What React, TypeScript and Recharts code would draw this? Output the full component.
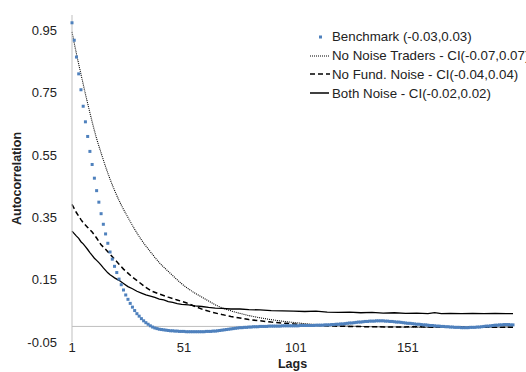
import { ComposedChart, Line, Scatter, XAxis, YAxis, ReferenceLine, Legend } from 'recharts';

// lag axis
const xTicks = [1, 51, 101, 151];
const yTicks = [-0.05, 0.15, 0.35, 0.55, 0.75, 0.95];

// Benchmark autocorrelation, one value per lag (1..198)
const benchmark = [
  0.975, 0.919, 0.865, 0.811, 0.760, 0.707, 0.657, 0.610, 0.562, 0.520,
  0.476, 0.436, 0.399, 0.362, 0.328, 0.297, 0.267, 0.239, 0.216, 0.193,
  0.173, 0.152, 0.134, 0.117, 0.101, 0.087, 0.074, 0.062, 0.051, 0.041,
  0.033, 0.025, 0.018, 0.012, 0.007, 0.002, -0.002, -0.005, -0.007, -0.009,
  -0.010, -0.011, -0.012, -0.013, -0.014, -0.014, -0.015, -0.015, -0.016, -0.016,
  -0.016, -0.017, -0.017, -0.017, -0.017, -0.017, -0.017, -0.017, -0.017, -0.017,
  -0.016, -0.016, -0.016, -0.015, -0.015, -0.014, -0.013, -0.012, -0.011, -0.010,
  -0.009, -0.008, -0.007, -0.006, -0.005, -0.004, -0.004, -0.003, -0.003, -0.002,
  -0.002, -0.001, -0.001, -0.001, 0.000, 0.000, 0.000, 0.000, 0.001, 0.001,
  0.001, 0.001, 0.001, 0.001, 0.002, 0.002, 0.002, 0.002, 0.002, 0.002,
  0.002, 0.002, 0.003, 0.003, 0.003, 0.003, 0.003, 0.003, 0.003, 0.004,
  0.004, 0.004, 0.004, 0.005, 0.005, 0.005, 0.006, 0.006, 0.007, 0.007,
  0.008, 0.008, 0.009, 0.010, 0.011, 0.011, 0.012, 0.013, 0.014, 0.014,
  0.015, 0.016, 0.016, 0.017, 0.017, 0.017, 0.018, 0.018, 0.018, 0.018,
  0.017, 0.017, 0.016, 0.016, 0.015, 0.014, 0.014, 0.013, 0.012, 0.011,
  0.010, 0.010, 0.009, 0.008, 0.007, 0.007, 0.006, 0.005, 0.005, 0.004,
  0.003, 0.003, 0.002, 0.001, 0.001, 0.000, 0.000, -0.001, -0.001, -0.002,
  -0.002, -0.003, -0.003, -0.003, -0.004, -0.004, -0.004, -0.004, -0.003, -0.003,
  -0.003, -0.002, -0.002, -0.001, 0.000, 0.001, 0.001, 0.002, 0.003, 0.004,
  0.004, 0.005, 0.005, 0.006, 0.006, 0.006, 0.005, 0.005,
];

// No Noise Traders (dotted)
const noNoiseLags = [1, 2, 3, 4, 5, 6, 7, 8, 9, 10, 12, 14, 16, 18, 20, 23, 26, 29, 32, 36, 40, 45, 50, 55, 60, 66, 72, 80, 88, 96, 105, 115, 125, 135, 145, 155, 165, 175, 185, 198];
const noNoise = [0.946, 0.91, 0.875, 0.842, 0.81, 0.778, 0.746, 0.716, 0.686, 0.657, 0.603, 0.557, 0.513, 0.473, 0.437, 0.39, 0.35, 0.312, 0.278, 0.24, 0.205, 0.17, 0.137, 0.111, 0.09, 0.066, 0.05, 0.035, 0.024, 0.016, 0.009, 0.004, 0.001, -0.001, -0.002, -0.003, -0.003, -0.002, -0.003, -0.002];

// No Fund. Noise (dashed)
const noFundLags = [1, 2, 3, 4, 5, 6, 8, 10, 12, 14, 16, 18, 20, 22, 24, 26, 28, 31, 34, 37, 40, 44, 48, 52, 56, 60, 64, 68, 72, 76, 80, 85, 90, 95, 100, 106, 112, 118, 125, 135, 145, 155, 165, 175, 185, 198];
const noFund = [0.392, 0.378, 0.365, 0.354, 0.343, 0.333, 0.318, 0.303, 0.284, 0.262, 0.248, 0.232, 0.216, 0.2, 0.184, 0.171, 0.158, 0.142, 0.125, 0.112, 0.104, 0.094, 0.085, 0.076, 0.064, 0.053, 0.045, 0.038, 0.032, 0.027, 0.022, 0.018, 0.014, 0.011, 0.008, 0.005, 0.003, 0.001, 0.0, -0.001, -0.002, -0.001, -0.003, -0.002, -0.003, -0.003];

// Both Noise (solid)
const bothLags = [1, 2, 3, 4, 5, 6, 7, 8, 9, 10, 11, 12, 13, 14, 15, 16, 17, 18, 19, 20, 22, 24, 26, 28, 30, 32, 34, 36, 38, 40, 42, 44, 46, 48, 50, 53, 56, 59, 62, 65, 68, 72, 76, 80, 85, 90, 95, 100, 105, 110, 115, 120, 125, 130, 135, 140, 145, 150, 155, 160, 163, 166, 170, 175, 180, 185, 190, 195, 198];
const both = [0.306, 0.298, 0.29, 0.283, 0.272, 0.265, 0.256, 0.247, 0.237, 0.228, 0.219, 0.212, 0.205, 0.197, 0.188, 0.18, 0.172, 0.166, 0.161, 0.156, 0.148, 0.138, 0.128, 0.121, 0.113, 0.107, 0.101, 0.097, 0.093, 0.088, 0.085, 0.08, 0.077, 0.073, 0.071, 0.069, 0.066, 0.064, 0.061, 0.059, 0.058, 0.056, 0.056, 0.054, 0.053, 0.051, 0.05, 0.049, 0.048, 0.049, 0.046, 0.045, 0.046, 0.044, 0.045, 0.043, 0.044, 0.042, 0.043, 0.041, 0.044, 0.041, 0.042, 0.041, 0.042, 0.041, 0.042, 0.041, 0.041];

const benchData = benchmark.map((v, i) => ({ lag: i + 1, v }));
const noNoiseData = noNoiseLags.map((lag, i) => ({ lag, v: noNoise[i] }));
const noFundData = noFundLags.map((lag, i) => ({ lag, v: noFund[i] }));
const bothData = bothLags.map((lag, i) => ({ lag, v: both[i] }));

const FONT = "'Liberation Sans', Arial, sans-serif";
const BLUE = '#4F81BD';

const legendItems = [
  { name: 'Benchmark (-0.03,0.03)', kind: 'marker' },
  { name: 'No Noise Traders - CI(-0.07,0.07)', kind: 'dotted' },
  { name: 'No Fund. Noise - CI(-0.04,0.04)', kind: 'dashed' },
  { name: 'Both Noise - CI(-0.02,0.02)', kind: 'solid' },
];

const LegendIcon = ({ kind }: { kind: string }) => (
  <svg width={21} height={12} style={{ display: 'block', flex: 'none' }}>
    {kind === 'marker' && <rect x={10} y={4.5} width={3} height={3} fill={BLUE} />}
    {kind === 'dotted' && <line x1={1} y1={6} x2={21} y2={6} stroke="#000" strokeWidth={1} strokeDasharray="1 1" />}
    {kind === 'dashed' && <line x1={1} y1={6} x2={21} y2={6} stroke="#000" strokeWidth={1.5} strokeDasharray="5 3" />}
    {kind === 'solid' && <line x1={1} y1={6} x2={20} y2={6} stroke="#000" strokeWidth={1.5} />}
  </svg>
);

const renderLegend = () => (
  <div style={{ fontFamily: FONT, fontSize: 13.3, color: '#222' }}>
    {legendItems.map((item) => (
      <div key={item.name} style={{ display: 'flex', alignItems: 'center', whiteSpace: 'nowrap', height: 18.8 }}>
        <LegendIcon kind={item.kind} />
        <span style={{ marginLeft: 2 }}>{item.name}</span>
      </div>
    ))}
  </div>
);

const YTitle = (props: any) => {
  const vb = props.viewBox || { x: 0, y: 0, height: 0 };
  const x = 17;
  const y = vb.y + vb.height / 2;
  return (
    <text x={x} y={y} transform={`rotate(-90 ${x} ${y})`} textAnchor="middle" dominantBaseline="central"
      fontFamily={FONT} fontSize={12.5} fontWeight="bold" fill="#222">
      Autocorrelation
    </text>
  );
};

const Square = (props: any) => {
  const { cx, cy } = props;
  if (cx == null || cy == null) return null;
  return <rect x={cx - 1.5} y={cy - 1.5} width={3} height={3} fill={BLUE} />;
};

export default function App() {
  return (
    <div style={{ position: 'absolute', left: 0, top: 0, width: 526, height: 372, overflow: 'hidden', background: '#fff' }}>
      <ComposedChart width={526} height={372} margin={{ top: 15, right: 13, bottom: 0, left: 12 }}>
        <XAxis
          dataKey="lag"
          type="number"
          domain={[1, 198]}
          ticks={xTicks}
          interval={0}
          axisLine={false}
          tickLine={false}
          tickSize={0}
          tickMargin={1}
          height={30}
          tick={{ fontFamily: FONT, fontSize: 13, fill: '#222' }}
          label={{ value: 'Lags', position: 'insideBottom', offset: 4, fontFamily: FONT, fontSize: 12.5, fontWeight: 'bold', fill: '#222' }}
        />
        <YAxis
          type="number"
          domain={[-0.05, 1.0]}
          ticks={yTicks}
          interval={0}
          width={60}
          axisLine={{ stroke: '#BFBFBF', strokeWidth: 1 }}
          tickLine={false}
          tickMargin={9}
          tickFormatter={(v: number) => v.toFixed(2)}
          tick={{ fontFamily: FONT, fontSize: 13, fill: '#222' }}
          label={{ content: <YTitle /> }}
        />
        <ReferenceLine y={0} stroke="#BFBFBF" strokeWidth={1} />
        <Legend
          layout="vertical"
          align="center"
          verticalAlign="middle"
          content={renderLegend}
          wrapperStyle={{ top: 27.5, left: 309, width: 'auto' }}
        />
        <Scatter name="Benchmark (-0.03,0.03)" data={benchData} dataKey="v" shape={<Square />} isAnimationActive={false} />
        <Line name="No Noise Traders - CI(-0.07,0.07)" data={noNoiseData} dataKey="v" type="monotone" stroke="#000" strokeWidth={1.1} strokeDasharray="1 1" dot={false} activeDot={false} isAnimationActive={false} />
        <Line name="No Fund. Noise - CI(-0.04,0.04)" data={noFundData} dataKey="v" type="linear" stroke="#000" strokeWidth={1.5} strokeDasharray="5 3" dot={false} activeDot={false} isAnimationActive={false} />
        <Line name="Both Noise - CI(-0.02,0.02)" data={bothData} dataKey="v" type="linear" stroke="#000" strokeWidth={1.3} dot={false} activeDot={false} isAnimationActive={false} />
      </ComposedChart>
    </div>
  );
}
